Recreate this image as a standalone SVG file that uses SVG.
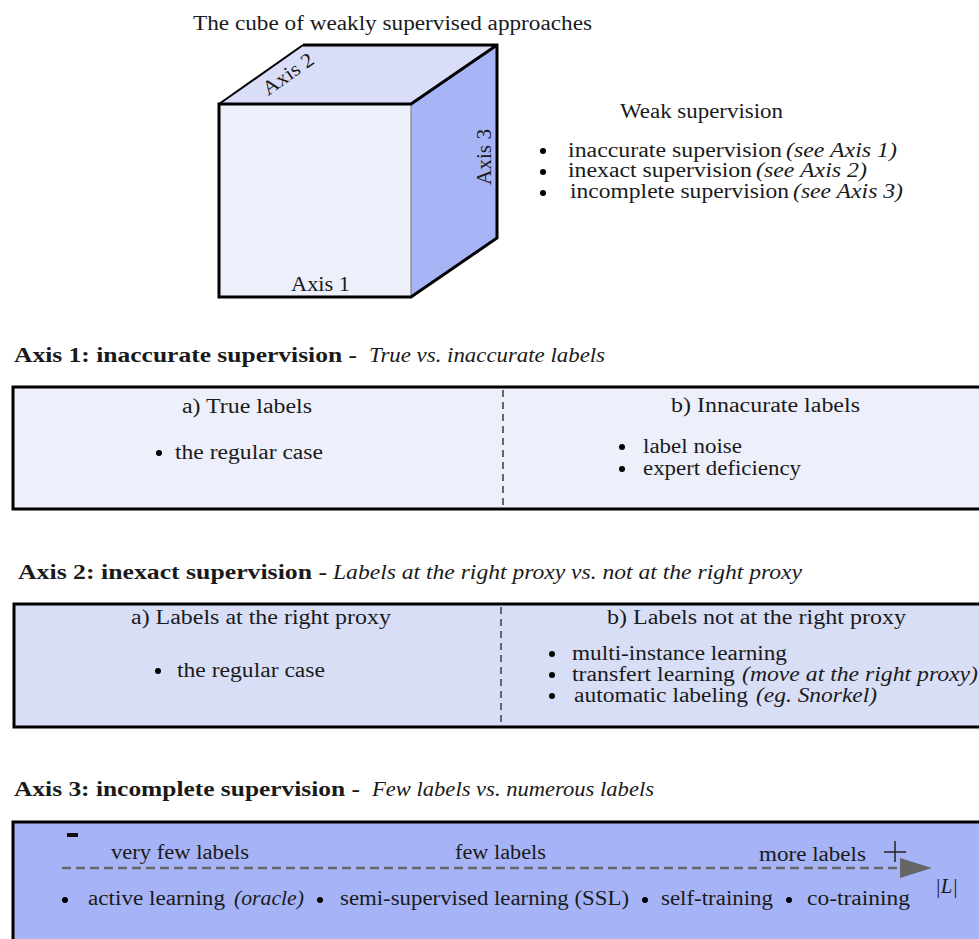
<svg xmlns="http://www.w3.org/2000/svg" width="979" height="939" viewBox="0 0 979 939">
<style>
text{font-family:"Liberation Serif","DejaVu Serif",serif;font-size:20px;fill:#1a1a1a}
.it{font-style:italic}
.b{font-weight:bold}
.dash{stroke:#666;stroke-width:2;stroke-dasharray:7,5;fill:none}
.box{stroke:#000;stroke-width:3}
</style>
<rect width="979" height="939" fill="#fff"/>
<g id="cube">
<text x="193" y="30" textLength="399" lengthAdjust="spacingAndGlyphs">The cube of weakly supervised approaches</text>
<polygon points="219,104 303,45 497,45 411,104" fill="#D9DDF7"/>
<polygon points="411,104 497,45 497,238 411,297" fill="#A7B4F5"/>
<rect x="219" y="104" width="192" height="193" fill="#EDEFFA"/>
<line x1="411" y1="104" x2="411" y2="297" stroke="#777" stroke-width="1"/>
<polyline points="219,104 303,45" stroke="#000" stroke-width="2" fill="none"/>
<polyline points="303,45 497,45 497,238 411,297 219,297 219,104 411,104 497,45" stroke="#000" stroke-width="3" fill="none" stroke-linejoin="miter"/>
<text x="268" y="96" transform="rotate(-35 268 96)" textLength="58" lengthAdjust="spacingAndGlyphs">Axis 2</text>
<text x="491" y="185" transform="rotate(-90 491 185)" textLength="56" lengthAdjust="spacingAndGlyphs">Axis 3</text>
<text x="291" y="291" textLength="59" lengthAdjust="spacingAndGlyphs">Axis 1</text>
</g>
<g id="weak">
<text x="620" y="118" textLength="163" lengthAdjust="spacingAndGlyphs">Weak supervision</text>
<circle cx="543" cy="151" r="3" fill="#000"/>
<circle cx="543" cy="172" r="3" fill="#000"/>
<circle cx="543" cy="193" r="3" fill="#000"/>
<text x="568" y="157" textLength="214" lengthAdjust="spacingAndGlyphs">inaccurate supervision</text>
<text x="786" y="157" class="it" textLength="111" lengthAdjust="spacingAndGlyphs">(see Axis 1)</text>
<text x="568" y="177" textLength="184" lengthAdjust="spacingAndGlyphs">inexact supervision</text>
<text x="756" y="177" class="it" textLength="111" lengthAdjust="spacingAndGlyphs">(see Axis 2)</text>
<text x="570" y="198" textLength="219" lengthAdjust="spacingAndGlyphs">incomplete supervision</text>
<text x="793" y="198" class="it" textLength="110" lengthAdjust="spacingAndGlyphs">(see Axis 3)</text>
</g>
<g id="axis1">
<text x="14" y="362" class="b" textLength="343" lengthAdjust="spacingAndGlyphs">Axis 1: inaccurate supervision -</text>
<text x="369" y="362" class="it" textLength="236" lengthAdjust="spacingAndGlyphs">True vs. inaccurate labels</text>
<rect class="box" x="13" y="387" width="980" height="122" fill="#EDEFFA"/>
<line class="dash" x1="503" y1="390" x2="503" y2="507"/>
<text x="182" y="413" textLength="130" lengthAdjust="spacingAndGlyphs">a) True labels</text>
<circle cx="159" cy="453" r="3" fill="#000"/>
<text x="175" y="459" textLength="148" lengthAdjust="spacingAndGlyphs">the regular case</text>
<text x="671" y="412" textLength="189" lengthAdjust="spacingAndGlyphs">b) Innacurate labels</text>
<circle cx="622" cy="447" r="3" fill="#000"/>
<circle cx="622" cy="469" r="3" fill="#000"/>
<text x="643" y="453" textLength="99" lengthAdjust="spacingAndGlyphs">label noise</text>
<text x="643" y="475" textLength="158" lengthAdjust="spacingAndGlyphs">expert deficiency</text>
</g>
<g id="axis2">
<text x="18" y="579" class="b" textLength="309" lengthAdjust="spacingAndGlyphs">Axis 2: inexact supervision -</text>
<text x="333" y="579" class="it" textLength="469" lengthAdjust="spacingAndGlyphs">Labels at the right proxy vs. not at the right proxy</text>
<rect class="box" x="14" y="604" width="980" height="123" fill="#D9DEF7"/>
<line class="dash" x1="501" y1="607" x2="501" y2="725"/>
<text x="131" y="624" textLength="260" lengthAdjust="spacingAndGlyphs">a) Labels at the right proxy</text>
<circle cx="158" cy="671" r="3" fill="#000"/>
<text x="177" y="677" textLength="148" lengthAdjust="spacingAndGlyphs">the regular case</text>
<text x="607" y="624" textLength="299" lengthAdjust="spacingAndGlyphs">b) Labels not at the right proxy</text>
<circle cx="552" cy="654" r="3" fill="#000"/>
<circle cx="552" cy="675" r="3" fill="#000"/>
<circle cx="552" cy="696" r="3" fill="#000"/>
<text x="572" y="660" textLength="215" lengthAdjust="spacingAndGlyphs">multi-instance learning</text>
<text x="572" y="681" textLength="163" lengthAdjust="spacingAndGlyphs">transfert learning</text>
<text x="742" y="681" class="it" textLength="236" lengthAdjust="spacingAndGlyphs">(move at the right proxy)</text>
<text x="574" y="702" textLength="174" lengthAdjust="spacingAndGlyphs">automatic labeling</text>
<text x="756" y="702" class="it" textLength="121" lengthAdjust="spacingAndGlyphs">(eg. Snorkel)</text>
</g>
<g id="axis3">
<text x="14" y="796" class="b" textLength="346" lengthAdjust="spacingAndGlyphs">Axis 3: incomplete supervision -</text>
<text x="372" y="796" class="it" textLength="282" lengthAdjust="spacingAndGlyphs">Few labels vs. numerous labels</text>
<rect class="box" x="13" y="822" width="980" height="130" fill="#A6B3F6"/>
<rect x="67" y="833" width="11" height="4" fill="#111"/>
<text x="111" y="859" textLength="138" lengthAdjust="spacingAndGlyphs">very few labels</text>
<text x="455" y="859" textLength="91" lengthAdjust="spacingAndGlyphs">few labels</text>
<text x="759" y="861" textLength="107" lengthAdjust="spacingAndGlyphs">more labels</text>
<line x1="884" y1="852" x2="906" y2="852" stroke="#222" stroke-width="1.5"/>
<line x1="895" y1="841" x2="895" y2="862" stroke="#222" stroke-width="1.5"/>
<text x="935" y="893" class="it" textLength="23" lengthAdjust="spacingAndGlyphs">|L|</text>
<circle cx="65" cy="900" r="3" fill="#000"/>
<circle cx="320" cy="900" r="3" fill="#000"/>
<circle cx="645" cy="900" r="3" fill="#000"/>
<circle cx="789" cy="900" r="3" fill="#000"/>
<text x="88" y="905" textLength="137" lengthAdjust="spacingAndGlyphs">active learning</text>
<text x="234" y="905" class="it" textLength="70" lengthAdjust="spacingAndGlyphs">(oracle)</text>
<text x="340" y="905" textLength="289" lengthAdjust="spacingAndGlyphs">semi-supervised learning (SSL)</text>
<text x="661" y="905" textLength="112" lengthAdjust="spacingAndGlyphs">self-training</text>
<text x="807" y="905" textLength="103" lengthAdjust="spacingAndGlyphs">co-training</text>
</g>
<g id="connectors">
<line x1="62" y1="868" x2="902" y2="868" stroke="#666" stroke-width="2.5" stroke-dasharray="9,5"/>
<polygon points="900,858 932,868 900,878" fill="#666"/>
</g>
</svg>
